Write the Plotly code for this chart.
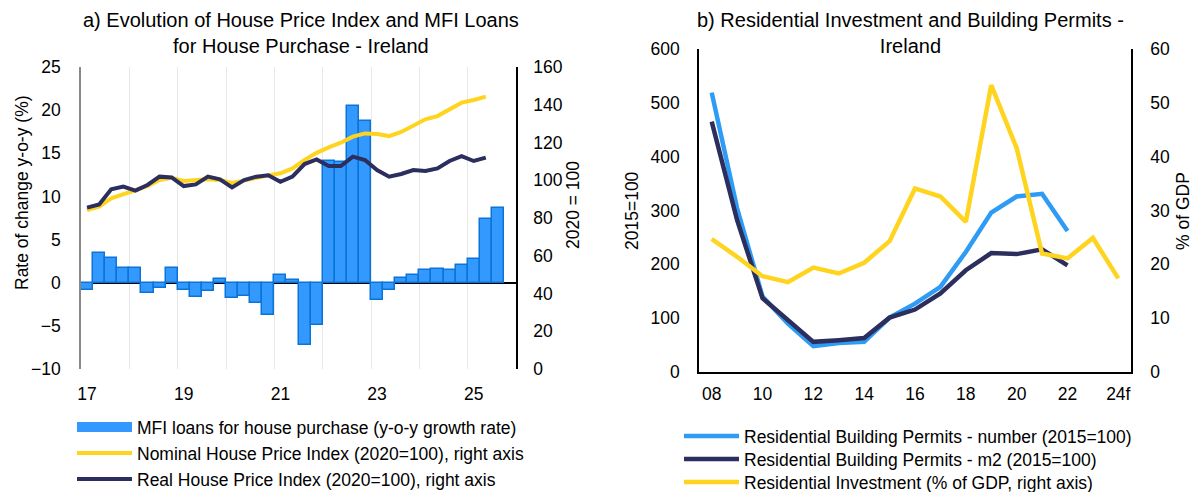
import plotly.graph_objects as go

# ---------------- Panel a data ----------------
quarters = [f"{y}Q{q}" for y in range(2017, 2026) for q in range(1, 5)][:35]
mfi_loans = [-0.8, 3.4, 2.9, 1.75, 1.65, -1.15, -0.6, 1.75, -0.8, -1.6, -1.0, 0.45,
             -1.75, -1.55, -2.3, -3.7, 0.9, 0.3, -7.2, -4.9,
             14.1, 14.0, 20.5, 18.7, -2.0, -0.85, 0.5, 0.9, 1.45, 1.6, 1.5, 2.1,
             2.8, 7.4, 8.7]
nominal_hpi = [84.2, 86.0, 90.4, 92.7, 94.5, 96.9, 100.1, 101.3, 99.6, 100.0, 100.5, 100.1,
               98.6, 99.8, 101.3, 102.6, 103.7, 106.3, 110.7, 114.5, 117.4, 119.9, 123.1, 124.8,
               124.5, 123.4, 125.6, 129.1, 132.3, 134.0, 137.6, 141.1, 142.5, 144.3]
real_hpi = [85.5, 87.2, 95.2, 96.6, 94.5, 97.5, 101.9, 101.5, 96.9, 97.8, 101.9, 100.5,
            96.2, 100.1, 101.9, 102.6, 99.2, 101.9, 108.6, 111.0, 107.5, 107.5, 112.5, 110.7,
            105.4, 101.9, 103.3, 105.4, 104.9, 106.3, 110.2, 112.8, 110.2, 112.0]
a_label_years = [2017, 2019, 2021, 2023, 2025]
a_label_text = ["17", "19", "21", "23", "25"]
a_grid_years = list(range(2017, 2027))


def qpos(label):
    y, q = label.split("Q")
    return int(y) + (int(q) - 0.5) / 4


xq_bar = [qpos(q) for q in quarters]
xq_line = [qpos(q) for q in quarters[:len(nominal_hpi)]]
a_tick_pos = [qpos(f"{y}Q1") for y in a_label_years]

# ---------------- Panel b data ----------------
years_b = ["08", "09", "10", "11", "12", "13", "14", "15", "16", "17", "18", "19",
           "20", "21", "22", "23", "24f"]
permits_number = [519, 304, 140, 90, 48, 54, 56, 101, 127, 158, 223, 296, 326, 331, 262]
permits_m2 = [465, 282, 137, 96, 56, 59, 63, 101, 116, 146, 189, 221, 219, 228, 198]
res_investment = [24.7, 21.4, 17.8, 16.7, 19.4, 18.3, 20.3, 24.3, 34.1, 32.6, 27.9,
                  53.3, 41.6, 22.0, 21.1, 24.9, 17.4]
b_tick_vals = ["08", "10", "12", "14", "16", "18", "20", "22", "24f"]

FONT = "Liberation Sans, Arial, sans-serif"
BAR_FILL = "#3399FF"
BAR_LINE = "#0A74D8"
YELLOW = "#FFD41F"
NAVY = "#2C2E5E"
LIGHTBLUE = "#2E9BF5"

W, H, OFF = 1200, 492, 8  # page body margin offsets the figure


def fx(px):
    return (px - OFF) / W


def fy(py):
    return 1 - (py - OFF) / H


fig = go.Figure()

fig.add_trace(go.Bar(x=xq_bar, y=mfi_loans, width=0.25,
                     marker=dict(color=BAR_FILL, line=dict(color=BAR_LINE, width=1.5)),
                     name="MFI loans for house purchase (y-o-y growth rate)",
                     legendgroup="mfi", showlegend=False,
                     xaxis="x", yaxis="y"))
# legend entry for the bars (wide rectangle swatch)
fig.add_trace(go.Scatter(x=[None], y=[None], mode="lines",
                         line=dict(color=BAR_FILL, width=10),
                         name="MFI loans for house purchase (y-o-y growth rate)",
                         legendgroup="mfi", xaxis="x", yaxis="y", legend="legend"))
fig.add_trace(go.Scatter(x=xq_line, y=nominal_hpi, mode="lines",
                         line=dict(color=YELLOW, width=4),
                         name="Nominal House Price Index (2020=100), right axis",
                         xaxis="x", yaxis="y2", legend="legend2"))
fig.add_trace(go.Scatter(x=xq_line, y=real_hpi, mode="lines",
                         line=dict(color=NAVY, width=4),
                         name="Real House Price Index (2020=100), right axis",
                         xaxis="x", yaxis="y2", legend="legend3"))

fig.add_trace(go.Scatter(x=years_b[:len(permits_number)], y=permits_number, mode="lines",
                         line=dict(color=LIGHTBLUE, width=4.5),
                         name="Residential Building Permits - number (2015=100)",
                         xaxis="x2", yaxis="y3", legend="legend4"))
fig.add_trace(go.Scatter(x=years_b[:len(permits_m2)], y=permits_m2, mode="lines",
                         line=dict(color=NAVY, width=4.5),
                         name="Residential Building Permits - m2 (2015=100)",
                         xaxis="x2", yaxis="y3", legend="legend5"))
fig.add_trace(go.Scatter(x=years_b, y=res_investment, mode="lines",
                         line=dict(color=YELLOW, width=4.5),
                         name="Residential Investment (% of GDP, right axis)",
                         xaxis="x2", yaxis="y4", legend="legend6"))

tickfont = dict(family=FONT, size=17.5, color="#000")
legfont = dict(family=FONT, size=17.5, color="#000")
axtitle = dict(family=FONT, size=17.5, color="#000")


def leg(xpx, center_py):
    return dict(x=fx(xpx), y=fy(center_py - 18), xanchor="left", yanchor="top",
                font=legfont, itemwidth=55, tracegroupgap=0,
                bgcolor="rgba(0,0,0,0)", borderwidth=0)


fig.update_layout(
    width=W, height=H,
    margin=dict(l=0, r=0, t=0, b=0, autoexpand=False),
    paper_bgcolor="white", plot_bgcolor="white",
    font=dict(family=FONT, size=17, color="#000"),
    bargap=0,
    xaxis=dict(domain=[fx(81), fx(516)], range=[2017, 2026],
               tickvals=a_tick_pos, ticktext=a_label_text,
               showgrid=False,
               minor=dict(tickvals=a_grid_years, showgrid=True, gridcolor="#E8E8E8",
                          gridwidth=1, ticks=""),
               showline=False, zeroline=False, ticks="", tickfont=tickfont,
               ticklabelstandoff=12, anchor="y"),
    yaxis=dict(domain=[fy(369), fy(67)], range=[-10, 25], dtick=5,
               showgrid=False, zeroline=True, zerolinecolor="#000", zerolinewidth=1.5,
               showline=True, linecolor="#888", linewidth=1.5, ticks="",
               tickfont=tickfont, ticklabelstandoff=15, anchor="x"),
    yaxis2=dict(overlaying="y", side="right", range=[0, 160], dtick=20,
                showgrid=False, zeroline=False, showline=True, linecolor="#000",
                linewidth=1.5, ticks="", tickfont=tickfont, ticklabelstandoff=12,
                anchor="x"),
    xaxis2=dict(domain=[fx(699), fx(1131)], type="category",
                categoryorder="array", categoryarray=years_b,
                range=[-0.5, len(years_b) - 0.5],
                tickvals=b_tick_vals, showgrid=False, zeroline=False,
                showline=True, linecolor="#000", linewidth=1.5, ticks="",
                tickfont=tickfont, ticklabelstandoff=5, anchor="y3"),
    yaxis3=dict(domain=[fy(372), fy(49)], range=[0, 600], dtick=100,
                showgrid=False, zeroline=False, showline=True, linecolor="#000",
                linewidth=1.5, ticks="", tickfont=tickfont, ticklabelstandoff=14,
                anchor="x2"),
    yaxis4=dict(overlaying="y3", side="right", range=[0, 60], dtick=10,
                showgrid=False, zeroline=False, showline=True, linecolor="#000",
                linewidth=1.5, ticks="", tickfont=tickfont, ticklabelstandoff=14,
                anchor="x2"),
    legend=leg(72, 427),
    legend2=leg(72, 453),
    legend3=leg(72, 479),
    legend4=leg(679, 436),
    legend5=leg(679, 459),
    legend6=leg(679, 482),
    annotations=[
        dict(text="a) Evolution of House Price Index and MFI Loans<br>for House Purchase - Ireland",
             x=fx(301), y=fy(8), xref="paper", yref="paper",
             xanchor="center", yanchor="top", showarrow=False, borderpad=0,
             font=dict(family=FONT, size=20, color="#000")),
        dict(text="b) Residential Investment and Building Permits -<br>Ireland",
             x=fx(910), y=fy(8), xref="paper", yref="paper",
             xanchor="center", yanchor="top", showarrow=False, borderpad=0,
             font=dict(family=FONT, size=20, color="#000")),
        dict(text="Rate of change y-o-y (%)", textangle=-90,
             x=fx(22), y=fy(193), xref="paper", yref="paper",
             xanchor="center", yanchor="middle", showarrow=False, font=axtitle),
        dict(text="2020 = 100", textangle=-90,
             x=fx(573), y=fy(205), xref="paper", yref="paper",
             xanchor="center", yanchor="middle", showarrow=False, font=axtitle),
        dict(text="2015=100", textangle=-90,
             x=fx(632), y=fy(211), xref="paper", yref="paper",
             xanchor="center", yanchor="middle", showarrow=False, font=axtitle),
        dict(text="% of GDP", textangle=-90,
             x=fx(1183), y=fy(211), xref="paper", yref="paper",
             xanchor="center", yanchor="middle", showarrow=False, font=axtitle),
    ],
    showlegend=True,
)

fig.write_html("out.html")
